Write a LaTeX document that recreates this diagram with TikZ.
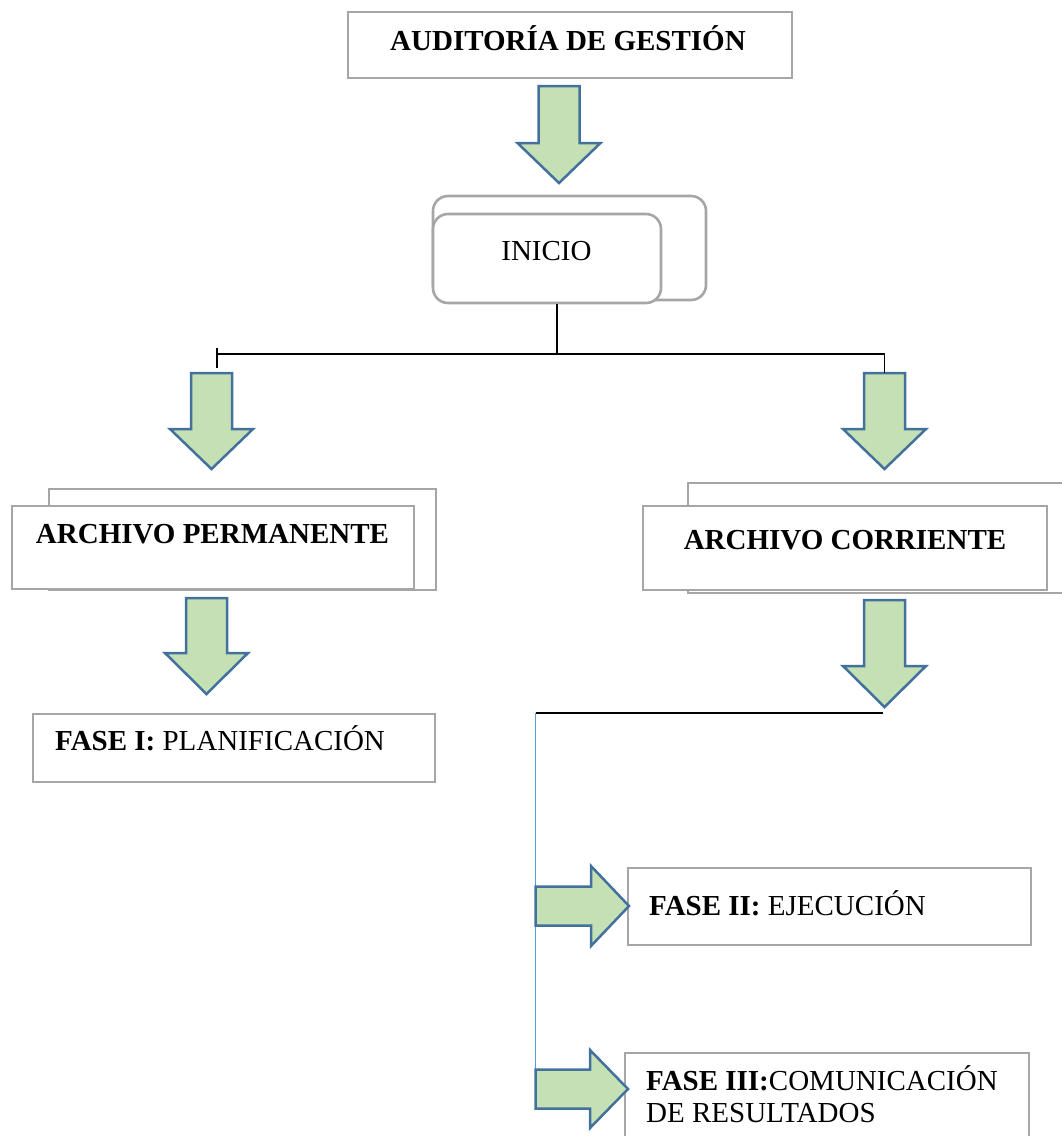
\documentclass[tikz,border=0pt]{standalone}
\usepackage{fontspec}
\setmainfont{Liberation Serif}
\definecolor{boxgray}{HTML}{A6A6A6}
\definecolor{arrfill}{HTML}{C5E0B4}
\definecolor{arrline}{HTML}{41719C}
\definecolor{vline}{HTML}{5B9BD5}
% down block arrow: name, x centre, y top, shaft length, head length
\newcommand\blkdown[5]{%
  \draw[blk] (#2-20.5,#3) -- (#2+20.5,#3) -- (#2+20.5,#3+#4) -- (#2+41.5,#3+#4)
    -- (#2,#3+#4+#5) -- (#2-41.5,#3+#4) -- (#2-20.5,#3+#4) -- cycle;
  \coordinate (#1top) at (#2,#3);
  \coordinate (#1tip) at (#2,#3+#4+#5);}
% right block arrow: name, x left, y centre, shaft length, head length, head half height
\newcommand\blkright[6]{%
  \draw[blk] (#2,#3-19.5) -- (#2+#4,#3-19.5) -- (#2+#4,#3-#6) -- (#2+#4+#5,#3)
    -- (#2+#4,#3+#6) -- (#2+#4,#3+19.5) -- (#2,#3+19.5) -- cycle;
  \coordinate (#1top) at (#2,#3-19.5);
  \coordinate (#1tip) at (#2+#4+#5,#3);}
\begin{document}
\begin{tikzpicture}[x=1pt,y=-1pt,
  box/.style={draw=boxgray, line width=2.6pt, rectangle, inner sep=0pt, fill=white},
  rbox/.style={box, rounded corners=15pt},
  txt/.style={inner sep=0pt, font=\fontsize{29}{33}\selectfont},
  blk/.style={draw=arrline, fill=arrfill, line width=2.5pt, line join=miter},
  conn/.style={draw=black, line width=1.5pt},
  bline/.style={draw=vline, line width=1.6pt}]
\useasboundingbox (0,0) rectangle (1062,1136);
\clip (0,0) rectangle (1062,1136);

% boxes
\node[box, minimum width=444pt, minimum height=66pt] (top) at (570,45) {};
\node[rbox, minimum width=273pt, minimum height=104pt] (inib) at (569.5,248) {};
\node[rbox, minimum width=228pt, minimum height=89pt] (inif) at (547,258.5) {};
\node[box, minimum width=387pt, minimum height=101pt] (permb) at (242.5,539.5) {};
\node[box, minimum width=402pt, minimum height=83pt] (permf) at (213,547.5) {};
\node[box, minimum width=412pt, minimum height=110pt] (corrb) at (894,538) {};
\node[box, minimum width=404pt, minimum height=84pt] (corrf) at (845,548) {};
\node[box, minimum width=402pt, minimum height=68pt] (f1) at (234,748) {};
\node[box, minimum width=403pt, minimum height=77pt] (f2) at (829.5,906.5) {};
\node[box, minimum width=404pt, minimum height=107pt] (f3) at (827,1106.5) {};

% texts
\node[txt, anchor=base] (tA) at (568,50) {\textbf{AUDITORÍA DE GESTIÓN}};
\node[txt, anchor=base] (tI) at (546.5,260) {INICIO};
\node[txt, anchor=base] (tP) at (212.5,543) {\textbf{ARCHIVO PERMANENTE}};
\node[txt, anchor=base] (tC) at (845,549) {\textbf{ARCHIVO CORRIENTE}};
\node[txt, anchor=base west] (t1) at (55,750) {\textbf{FASE I:} PLANIFICACIÓN};
\node[txt, anchor=base west] (t2) at (649,915) {\textbf{FASE II:} EJECUCIÓN};
\node[txt, anchor=base west] (t3a) at (646,1090) {\textbf{FASE III:}COMUNICACIÓN};
\node[txt, anchor=base west] (t3b) at (646,1122) {DE RESULTADOS};

% connectors (drawn before the arrows so the arrow outlines sit on top)
\coordinate (jM) at (557,354);
\coordinate (jL) at (217,354);
\coordinate (kL) at (535.5,713);
\coordinate (kR) at (883,713);

% block arrows
\blkdown{a1}{559}{86}{57}{40}
\blkdown{a2}{211.5}{373}{56}{40}
\blkdown{a3}{884.5}{373}{56}{40}
\blkdown{a4}{206.5}{598}{55}{41}
\blkdown{a5}{884.5}{600}{66}{41}

\draw[bline] (kL) -- (535.5,1070) coordinate (kB);
\blkright{a6}{535.5}{906}{55.5}{38}{40}
\blkright{a7}{535.5}{1089}{54.5}{38}{39}

\coordinate (jR) at (a3top |- jM);
\draw[conn] (inif.south -| jM) -- (jM);
\draw[conn] (jL) -- (jR) -- (a3top);
\draw[conn] ([yshift=6pt]jL) -- ([yshift=-14pt]jL);
\draw[conn] (kL) -- (kR);
\end{tikzpicture}
\end{document}
